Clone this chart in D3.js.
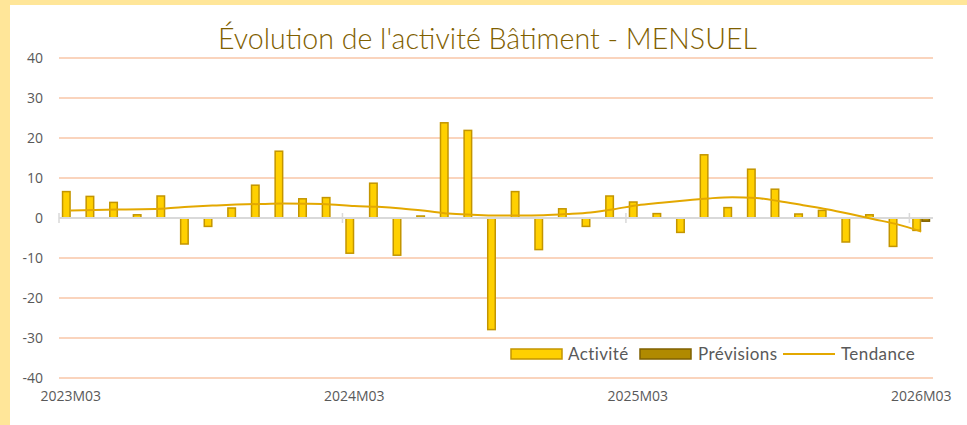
<!DOCTYPE html>
<html>
<head>
<meta charset="utf-8">
<script src="https://cdn.jsdelivr.net/npm/d3@7"></script>
<style>
  html, body { margin: 0; padding: 0; background: #fff; }
  svg { display: block; }
</style>
</head>
<body>
<svg id="chart" width="967" height="425"></svg>
<script>
// categories (months)
const categories = [
  "2023M03","2023M04","2023M05","2023M06","2023M07","2023M08","2023M09","2023M10","2023M11","2023M12",
  "2024M01","2024M02","2024M03","2024M04","2024M05","2024M06","2024M07","2024M08","2024M09","2024M10",
  "2024M11","2024M12","2025M01","2025M02","2025M03","2025M04","2025M05","2025M06","2025M07","2025M08",
  "2025M09","2025M10","2025M11","2025M12","2026M01","2026M02","2026M03"
];
// Activité (bars)
const activite = [6.6, 5.4, 3.9, 0.8, 5.5, -6.5, -2.1, 2.5, 8.2, 16.7, 4.8, 5.1, -8.8, 8.7, -9.3, 0.5,
  23.8, 21.9, -27.9, 6.6, -7.9, 2.3, -2.1, 5.5, 4.0, 1.1, -3.6, 15.8, 2.6, 12.2, 7.2, 1.0, 1.9, -6.0,
  0.8, -7.1, -3.1];
// Prévisions (only the last month)
const previsions = [null, null, null, null, null, null, null, null, null, null, null, null, null, null,
  null, null, null, null, null, null, null, null, null, null, null, null, null, null, null, null, null,
  null, null, null, null, null, -0.8];
// Tendance (smoothed line)
const tendance = [1.9, 2.0, 2.1, 2.2, 2.4, 2.8, 3.1, 3.35, 3.5, 3.6, 3.55, 3.4, 3.0, 2.8, 2.4, 1.8,
  1.1, 0.8, 0.6, 0.6, 0.7, 1.0, 1.4, 2.2, 3.2, 3.8, 4.4, 4.9, 5.2, 5.0, 4.2, 3.2, 2.2, 1.0, -0.3,
  -1.6, -3.4];
const yTicks = [-40, -30, -20, -10, 0, 10, 20, 30, 40];
const xLabels = ["2023M03", "2024M03", "2025M03", "2026M03"];
const seriesNames = ["Activité", "Prévisions"];

const W = 967, H = 425;
const svg = d3.select('#chart');

// frame: pale yellow strip top and left
svg.append('rect').attr('width', W).attr('height', H).attr('fill', '#FFE699');
svg.append('rect').attr('x', 10).attr('y', 5).attr('width', W - 10).attr('height', H - 5).attr('fill', '#fff');

const plot = { left: 59, right: 933, top: 58, bottom: 378 };

const x = d3.scaleBand().domain(categories).range([plot.left, plot.right]).padding(0);
const xs = d3.scaleBand().domain(seriesNames).range([0, x.bandwidth()]).paddingInner(0).paddingOuter(0.31);
const y = d3.scaleLinear().domain([-40, 40]).range([plot.bottom, plot.top]);

const labelFont = '"Open Sans", "Liberation Sans", sans-serif';
const gothic = '"Century Gothic", "URW Gothic", "Lato", sans-serif';

// gridlines
svg.append('g')
  .selectAll('line')
  .data(yTicks.filter(d => d !== 0))
  .join('line')
    .attr('x1', plot.left).attr('x2', plot.right)
    .attr('y1', d => y(d)).attr('y2', d => y(d))
    .attr('stroke', '#FAD4BD').attr('stroke-width', 1.8);

// y axis labels (plain hyphen for negatives, as in the original)
const yAxis = svg.append('g')
  .attr('transform', `translate(${plot.left},0)`)
  .call(d3.axisLeft(y).tickValues(yTicks).tickFormat(d => String(d)).tickSize(0).tickPadding(16));
yAxis.select('.domain').remove();
yAxis.selectAll('text')
  .attr('font-family', labelFont).attr('font-size', 14).attr('fill', '#595959');

// title
const title = svg.append('text')
  .attr('x', 487.5).attr('y', 49)
  .attr('text-anchor', 'middle')
  .attr('font-family', gothic).attr('font-size', 27).attr('font-weight', 300)
  .attr('fill', '#7F6000')
  .text("Évolution de l'activité Bâtiment - MENSUEL");
// fit title width to the reference
const tw = title.node().getComputedTextLength();
title.attr('font-size', 27 * 539 / tw);

// bars: Activité
svg.append('g')
  .selectAll('rect')
  .data(activite.map((v, i) => ({ cat: categories[i], v })))
  .join('rect')
    .attr('x', d => x(d.cat) + xs('Activité') + 0.75)
    .attr('width', xs.bandwidth() - 1.5)
    .attr('y', d => y(Math.max(0, d.v)))
    .attr('height', d => Math.abs(y(d.v) - y(0)))
    .attr('fill', '#FFD000').attr('stroke', '#C39500').attr('stroke-width', 1.5);

// bars: Prévisions
svg.append('g')
  .selectAll('rect')
  .data(previsions.map((v, i) => ({ cat: categories[i], v })).filter(d => d.v !== null))
  .join('rect')
    .attr('x', d => x(d.cat) + xs('Prévisions') + 0.75)
    .attr('width', xs.bandwidth() - 1.5)
    .attr('y', d => y(Math.max(0, d.v)))
    .attr('height', d => Math.abs(y(d.v) - y(0)))
    .attr('fill', '#B08A00').attr('stroke', '#7F6000').attr('stroke-width', 1.5);

// zero axis line + tick marks every 12 months
svg.append('line')
  .attr('x1', plot.left).attr('x2', plot.right)
  .attr('y1', y(0)).attr('y2', y(0))
  .attr('stroke', '#D9D9D9').attr('stroke-width', 1.8);
svg.append('g')
  .selectAll('line')
  .data(xLabels)
  .join('line')
    .attr('x1', d => x(d)).attr('x2', d => x(d))
    .attr('y1', y(0) - 5).attr('y2', y(0) + 5)
    .attr('stroke', '#D9D9D9').attr('stroke-width', 1.5);

// trend line
const line = d3.line()
  .x((d, i) => x(categories[i]) + x.bandwidth() / 2)
  .y(d => y(d))
  .curve(d3.curveMonotoneX);
svg.append('path')
  .datum(tendance)
  .attr('d', line)
  .attr('fill', 'none')
  .attr('stroke', '#E3A800').attr('stroke-width', 2);

// x axis labels
const xAxis = svg.append('g')
  .attr('transform', `translate(0,${plot.bottom})`)
  .call(d3.axisBottom(x).tickValues(xLabels).tickSize(0).tickPadding(13));
xAxis.select('.domain').remove();
xAxis.selectAll('text')
  .attr('font-family', labelFont).attr('font-size', 14).attr('fill', '#595959');

// legend
const legend = svg.append('g').attr('font-family', gothic).attr('font-size', 17)
  .attr('letter-spacing', 0.4).attr('fill', '#595959');
const legendItems = [
  { name: 'Activité', type: 'bar', fill: '#FFD000', stroke: '#C39500', x: 511, tx: 568 },
  { name: 'Prévisions', type: 'bar', fill: '#B08A00', stroke: '#7F6000', x: 640, tx: 698 },
  { name: 'Tendance', type: 'line', stroke: '#E3A800', x: 783, tx: 841 }
];
legendItems.forEach(it => {
  if (it.type === 'bar') {
    legend.append('rect').attr('x', it.x).attr('y', 349).attr('width', 51).attr('height', 10)
      .attr('fill', it.fill).attr('stroke', it.stroke).attr('stroke-width', 1.5);
  } else {
    legend.append('line').attr('x1', it.x).attr('x2', it.x + 52).attr('y1', 354).attr('y2', 354)
      .attr('stroke', it.stroke).attr('stroke-width', 2);
  }
  legend.append('text').attr('x', it.tx).attr('y', 360).text(it.name);
});
</script>
</body>
</html>
